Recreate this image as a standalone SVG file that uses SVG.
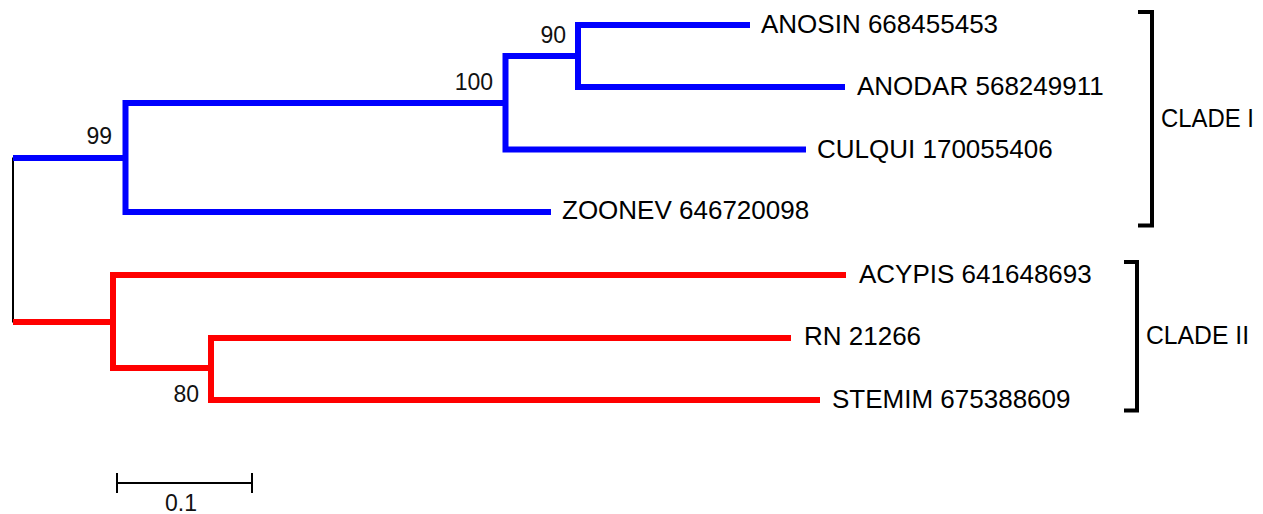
<svg xmlns="http://www.w3.org/2000/svg" width="1263" height="514" viewBox="0 0 1263 514">
<style>
.b{fill:none;stroke:#0000FF;stroke-width:6;stroke-linejoin:miter;stroke-linecap:butt}
.r{fill:none;stroke:#FF0000;stroke-width:6;stroke-linejoin:miter;stroke-linecap:butt}
.k{fill:none;stroke:#000;stroke-width:2}
.br{fill:none;stroke:#000;stroke-width:4;stroke-linejoin:miter}
.lab{font-family:"Liberation Sans",Arial,sans-serif;font-size:26px;fill:#000}
.sup{font-family:"Liberation Sans",Arial,sans-serif;font-size:23px;fill:#111;text-anchor:end}
.cl{font-family:"Liberation Sans",Arial,sans-serif;font-size:26px;fill:#000}
</style>
<rect width="1263" height="514" fill="#fff"/>
<g id="connectors">
<path class="k" d="M13 157.5 V322.5"/>
<path class="b" d="M13 158 H125.5"/>
<path class="b" d="M551 212 H125.5 V103 H505.5"/>
<path class="b" d="M806 149.5 H505.5 V56 H578"/>
<path class="b" d="M750 25 H578 V87 H845"/>
<path class="r" d="M13 322 H113"/>
<path class="r" d="M846 275 H113 V368 H211"/>
<path class="r" d="M791 338 H211 V400 H820"/>
</g>
<g id="support">
<text class="sup" x="112" y="144">99</text>
<text class="sup" x="493" y="90">100</text>
<text class="sup" x="566" y="43">90</text>
<text class="sup" x="199" y="402">80</text>
</g>
<g id="n-anosin"><text class="lab" x="761" y="33">ANOSIN 668455453</text></g>
<g id="n-anodar"><text class="lab" x="857" y="95">ANODAR 568249911</text></g>
<g id="n-culqui"><text class="lab" x="817" y="158">CULQUI 170055406</text></g>
<g id="n-zoonev"><text class="lab" x="562" y="219">ZOONEV 646720098</text></g>
<g id="n-acypis"><text class="lab" x="859" y="283">ACYPIS 641648693</text></g>
<g id="n-rn"><text class="lab" x="804" y="345">RN 21266</text></g>
<g id="n-stemim"><text class="lab" x="832" y="408">STEMIM 675388609</text></g>
<g id="clade1">
<path class="br" d="M1138 12 H1152 V225.5 H1138"/>
<text class="cl" x="1161" y="127" textLength="93" lengthAdjust="spacingAndGlyphs">CLADE I</text>
</g>
<g id="clade2">
<path class="br" d="M1124 262 H1137 V410.5 H1124"/>
<text class="cl" x="1146" y="344" textLength="103" lengthAdjust="spacingAndGlyphs">CLADE II</text>
</g>
<g id="scale">
<path class="k" d="M117 483 H252 M117 473 V493 M252 473 V493"/>
<text class="sup" x="197" y="511">0.1</text>
</g>
</svg>
